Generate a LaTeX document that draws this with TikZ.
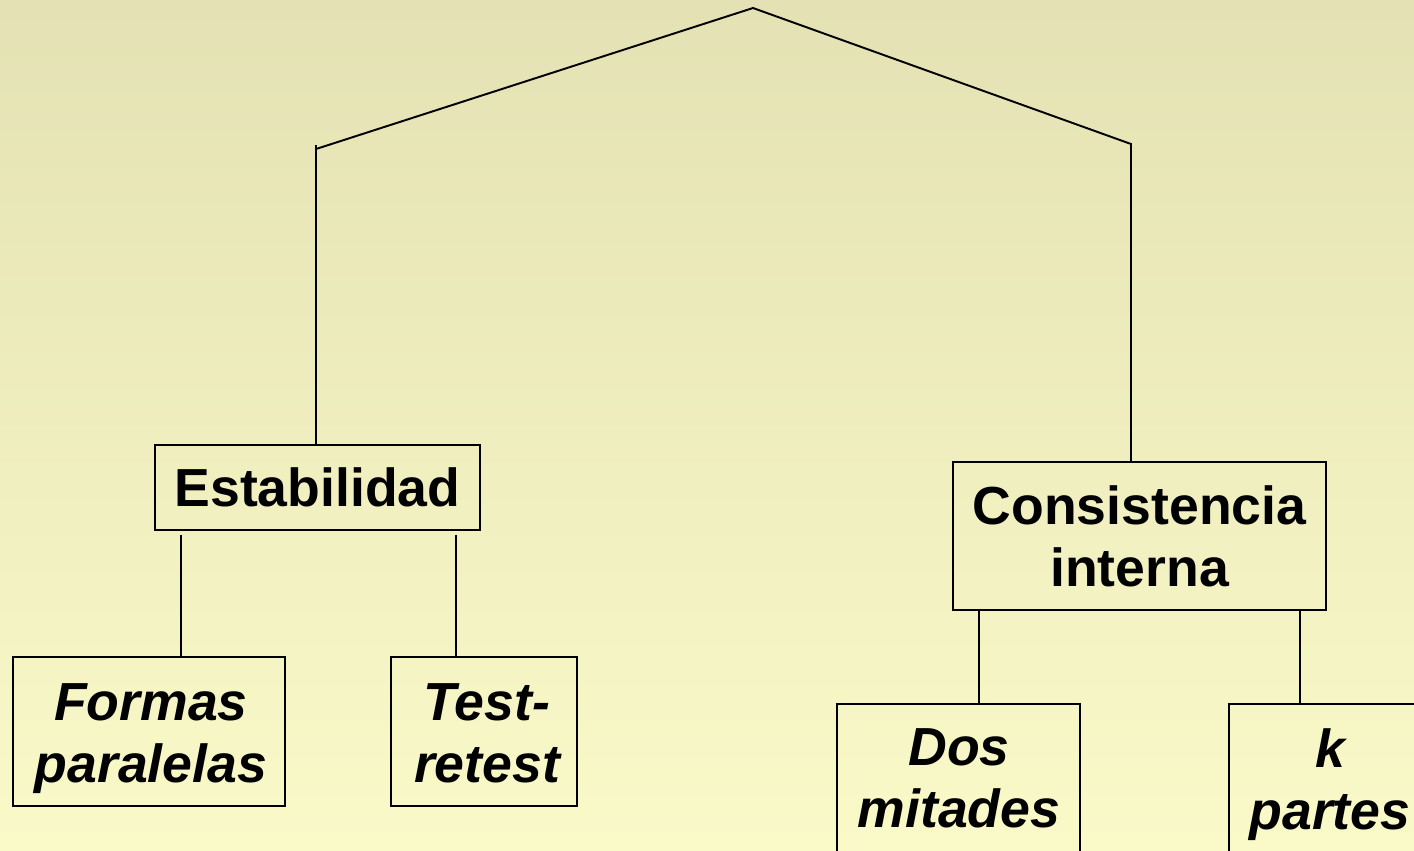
\documentclass[tikz,border=0pt]{standalone}
\usepackage{fontspec}
\setmainfont{Liberation Sans}
\begin{document}
\begin{tikzpicture}[x=0.02cm,y=-0.02cm,
  conn/.style={line width=1.1pt,black},
  boxst/.style={draw=black,line width=1.1pt,inner sep=0pt,align=center,
    font=\fontsize{30.5}{35.3}\selectfont\bfseries},
  emptybox/.style={draw=black,line width=1.1pt,inner sep=0pt},
  labit/.style={inner sep=0pt,align=center,
    font=\fontsize{30.5}{35.3}\selectfont\bfseries\itshape}]
\useasboundingbox (0,0) rectangle (1414,850);
\shade[top color={rgb,255:red,228;green,226;blue,180},bottom color={rgb,255:red,250;green,249;blue,200}] (0,0) rectangle (1414,850);
\clip (0,0) rectangle (1414,850);
% boxes
\node[boxst,minimum width=325*0.02cm,minimum height=85*0.02cm] (estab) at (317.5,487.5) {Estabilidad};
\node[emptybox,minimum width=272*0.02cm,minimum height=149*0.02cm] (formas) at (149,731.5) {};
\node[emptybox,minimum width=186*0.02cm,minimum height=149*0.02cm] (test) at (484,731.5) {};
\node[boxst,minimum width=373*0.02cm,minimum height=148*0.02cm] (cons) at (1139.5,536) {Consistencia\\interna};
\node[emptybox,anchor=north west,minimum width=243*0.02cm,minimum height=300*0.02cm] (dos) at (836,703) {};
\node[emptybox,anchor=north west,minimum width=250*0.02cm,minimum height=300*0.02cm] (kp) at (1228,703) {};
% italic labels
\node[labit,anchor=north] (formast) at (151,683) {Formas\\paralelas};
\node[labit,anchor=north] (testt) at (487,683) {Test-\\retest};
\node[labit,anchor=north] (dost) at (959,728) {Dos\\mitades};
\node[labit,anchor=north] (kpt) at (1330,728) {\textit{k}\\partes};
% coordinates
\coordinate (apex) at (753,8);
\coordinate (lj) at (316,149);
\coordinate (ltop) at (316,145);
\coordinate (rj) at (1131,144);
\coordinate (e1) at (181,0);
\coordinate (e2) at (456,0);
\coordinate (c1) at (979,0);
\coordinate (c2) at (1300,0);
% connectors
\draw[conn] (lj) -- (apex) -- (rj) -- (rj |- cons.north);
\draw[conn] (ltop) -- (ltop |- estab.north);
\draw[conn,shorten <=4*0.02cm] (e1 |- estab.south) -- (e1 |- formas.north);
\draw[conn,shorten <=4*0.02cm] (e2 |- estab.south) -- (e2 |- test.north);
\draw[conn] (c1 |- cons.south) -- (c1 |- dos.north);
\draw[conn] (c2 |- cons.south) -- (c2 |- kp.north);
\end{tikzpicture}
\end{document}
